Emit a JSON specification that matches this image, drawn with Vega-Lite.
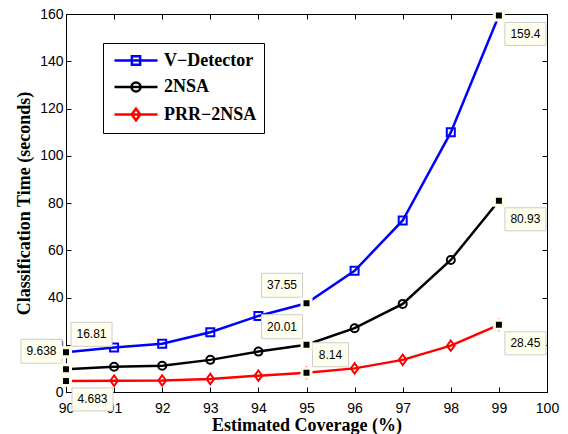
{
  "$schema": "https://vega.github.io/schema/vega-lite/v6.json",
  "width": 481,
  "height": 378,
  "autosize": {"type": "none"},
  "padding": {"left": 66, "top": 14, "right": 21, "bottom": 42},
  "background": "white",
  "config": {
    "view": {"stroke": "black", "strokeWidth": 1},
    "axis": {
      "grid": false,
      "domainColor": "black",
      "domainWidth": 1,
      "tickColor": "black",
      "tickSize": -5,
      "tickWidth": 1,
      "labelFont": "Liberation Sans",
      "labelFontSize": 14,
      "labelColor": "black",
      "titleFont": "Liberation Serif",
      "titleFontWeight": "bold",
      "titleFontSize": 18,
      "titleColor": "black"
    },
    "legend": {
      "orient": "none",
      "legendX": 37,
      "legendY": 29,
      "strokeColor": "black",
      "fillColor": "white",
      "padding": 7,
      "labelFont": "Liberation Serif",
      "labelFontWeight": "bold",
      "labelFontSize": 18,
      "labelColor": "black",
      "symbolSize": 324,
      "symbolStrokeWidth": 2.5,
      "symbolFillColor": "transparent",
      "symbolOffset": 15.5,
      "rowPadding": 6.5,
      "labelOffset": 17.5
    }
  },
  "data": {
    "values": [
      {"x": 90, "series": "V−Detector", "time": 16.81},
      {"x": 91, "series": "V−Detector", "time": 18.8},
      {"x": 92, "series": "V−Detector", "time": 20.4},
      {"x": 93, "series": "V−Detector", "time": 25.3},
      {"x": 94, "series": "V−Detector", "time": 32.2},
      {"x": 95, "series": "V−Detector", "time": 37.55},
      {"x": 96, "series": "V−Detector", "time": 51.3},
      {"x": 97, "series": "V−Detector", "time": 72.6},
      {"x": 98, "series": "V−Detector", "time": 109.9},
      {"x": 99, "series": "V−Detector", "time": 159.4},
      {"x": 90, "series": "2NSA", "time": 9.638},
      {"x": 91, "series": "2NSA", "time": 10.7},
      {"x": 92, "series": "2NSA", "time": 11.1},
      {"x": 93, "series": "2NSA", "time": 13.6},
      {"x": 94, "series": "2NSA", "time": 17.1},
      {"x": 95, "series": "2NSA", "time": 20.01},
      {"x": 96, "series": "2NSA", "time": 27.0},
      {"x": 97, "series": "2NSA", "time": 37.3},
      {"x": 98, "series": "2NSA", "time": 55.9},
      {"x": 99, "series": "2NSA", "time": 80.93},
      {"x": 90, "series": "PRR−2NSA", "time": 4.683},
      {"x": 91, "series": "PRR−2NSA", "time": 4.8},
      {"x": 92, "series": "PRR−2NSA", "time": 4.9},
      {"x": 93, "series": "PRR−2NSA", "time": 5.5},
      {"x": 94, "series": "PRR−2NSA", "time": 6.9},
      {"x": 95, "series": "PRR−2NSA", "time": 8.14},
      {"x": 96, "series": "PRR−2NSA", "time": 10.0},
      {"x": 97, "series": "PRR−2NSA", "time": 13.6},
      {"x": 98, "series": "PRR−2NSA", "time": 19.6},
      {"x": 99, "series": "PRR−2NSA", "time": 28.45}
    ]
  },
  "layer": [
    {
      "encoding": {
        "x": {
          "field": "x", "type": "quantitative",
          "scale": {"domain": [90, 100], "nice": false, "zero": false},
          "axis": {"orient": "bottom", "values": [90, 91, 92, 93, 94, 95, 96, 97, 98, 99, 100], "format": "d", "labelPadding": 14, "title": "Estimated Coverage (%)", "titlePadding": 1, "labelFlush": false}
        },
        "y": {
          "field": "time", "type": "quantitative",
          "scale": {"domain": [0, 160], "nice": false},
          "axis": {"orient": "left", "values": [0, 20, 40, 60, 80, 100, 120, 140, 160], "labelPadding": 8, "title": "Classification Time (seconds)", "titlePadding": 6}
        },
        "color": {
          "field": "series", "type": "nominal",
          "scale": {"domain": ["V−Detector", "2NSA", "PRR−2NSA"], "range": ["#0000ff", "#000000", "#ff0000"]},
          "legend": {"title": null}
        }
      },
      "layer": [
        {
          "mark": {"type": "line", "strokeWidth": 2.5}
        },
        {
          "transform": [{"filter": "datum.x < 0"}],
          "mark": {"type": "point", "filled": false, "strokeWidth": 2.5, "opacity": 1},
          "encoding": {
            "shape": {
              "field": "series", "type": "nominal",
              "scale": {"domain": ["V−Detector", "2NSA", "PRR−2NSA"], "range": ["M-2.39,0H2.39M-0.46,-0.46H0.46V0.46H-0.46Z", "M-2.39,0H2.39M-0.5,0A0.5,0.5 0 1,0 0.5,0A0.5,0.5 0 1,0 -0.5,0Z", "M-2.39,0H2.39M0,-0.65L0.48,0L0,0.65L-0.48,0Z"]},
              "legend": {"title": null}
            }
          }
        },
        {
          "transform": [{"filter": "datum.series == 'V−Detector'"}],
          "mark": {"type": "point", "shape": "square", "filled": false, "size": 64, "strokeWidth": 2, "opacity": 1}
        },
        {
          "transform": [{"filter": "datum.series == '2NSA'"}],
          "mark": {"type": "point", "shape": "circle", "filled": false, "size": 64, "strokeWidth": 2, "opacity": 1}
        },
        {
          "transform": [{"filter": "datum.series == 'PRR−2NSA'"}],
          "mark": {"type": "point", "shape": "M0,-1.3L0.95,0L0,1.3L-0.95,0Z", "filled": false, "size": 64, "strokeWidth": 2, "opacity": 1}
        },
        {
          "transform": [{"filter": "datum.x == 90 && datum.series == 'V−Detector'"}],
          "layer": [
            {"mark": {"type": "point", "shape": "M5,-30H46V-6H5Z", "size": 4, "filled": true, "fill": "#ffffee", "stroke": "#cccccc", "strokeWidth": 1, "opacity": 1},
             "encoding": {"color": {"value": "#ffffee"}}},
            {"mark": {"type": "text", "font": "Liberation Sans", "fontSize": 12, "align": "center", "baseline": "middle", "dx": 25.5, "dy": -18},
             "encoding": {"color": {"value": "black"}, "text": {"field": "time", "type": "quantitative", "format": ".4~g"}}}
          ]
        },
        {
          "transform": [{"filter": "datum.x == 95 && datum.series == 'PRR−2NSA'"}],
          "layer": [
            {"mark": {"type": "point", "shape": "M6,-30H42V-6H6Z", "size": 4, "filled": true, "fill": "#ffffee", "stroke": "#cccccc", "strokeWidth": 1, "opacity": 1},
             "encoding": {"color": {"value": "#ffffee"}}},
            {"mark": {"type": "text", "font": "Liberation Sans", "fontSize": 12, "align": "center", "baseline": "middle", "dx": 24, "dy": -18},
             "encoding": {"color": {"value": "black"}, "text": {"field": "time", "type": "quantitative", "format": ".4~g"}}}
          ]
        },
        {
          "transform": [{"filter": "(datum.x == 90 && datum.series == '2NSA') || (datum.x == 95 && datum.series != 'PRR−2NSA')"}],
          "layer": [
            {"mark": {"type": "point", "shape": "M-45,-30H-4V-6H-45Z", "size": 4, "filled": true, "fill": "#ffffee", "stroke": "#cccccc", "strokeWidth": 1, "opacity": 1},
             "encoding": {"color": {"value": "#ffffee"}}},
            {"mark": {"type": "text", "font": "Liberation Sans", "fontSize": 12, "align": "center", "baseline": "middle", "dx": -24.5, "dy": -18},
             "encoding": {"color": {"value": "black"}, "text": {"field": "time", "type": "quantitative", "format": ".4~g"}}}
          ]
        },
        {
          "transform": [{"filter": "(datum.x == 90 && datum.series == 'PRR−2NSA') || datum.x == 99"}],
          "layer": [
            {"mark": {"type": "point", "shape": "M6,7H47V30H6Z", "size": 4, "filled": true, "fill": "#ffffee", "stroke": "#cccccc", "strokeWidth": 1, "opacity": 1},
             "encoding": {"color": {"value": "#ffffee"}}},
            {"mark": {"type": "text", "font": "Liberation Sans", "fontSize": 12, "align": "center", "baseline": "middle", "dx": 26.5, "dy": 18.5},
             "encoding": {"color": {"value": "black"}, "text": {"field": "time", "type": "quantitative", "format": ".4~g"}}}
          ]
        },
        {
          "transform": [{"filter": "datum.x == 90 || datum.x == 95 || datum.x == 99"}],
          "mark": {"type": "point", "shape": "square", "size": 81, "filled": true, "fill": "black", "stroke": "#ffffee", "strokeWidth": 3, "opacity": 1},
          "encoding": {"color": {"value": "black"}}
        }
      ]
    },
    {
      "mark": {"type": "point", "opacity": 0},
      "encoding": {
        "x": {
          "field": "x", "type": "quantitative",
          "scale": {"domain": [90, 100], "nice": false, "zero": false},
          "axis": {"orient": "top", "values": [90, 91, 92, 93, 94, 95, 96, 97, 98, 99, 100], "labels": false, "title": null}
        },
        "y": {
          "field": "time", "type": "quantitative",
          "scale": {"domain": [0, 160], "nice": false},
          "axis": {"orient": "right", "values": [0, 20, 40, 60, 80, 100, 120, 140, 160], "labels": false, "title": null}
        }
      }
    }
  ],
  "resolve": {"axis": {"x": "independent", "y": "independent"}}
}
